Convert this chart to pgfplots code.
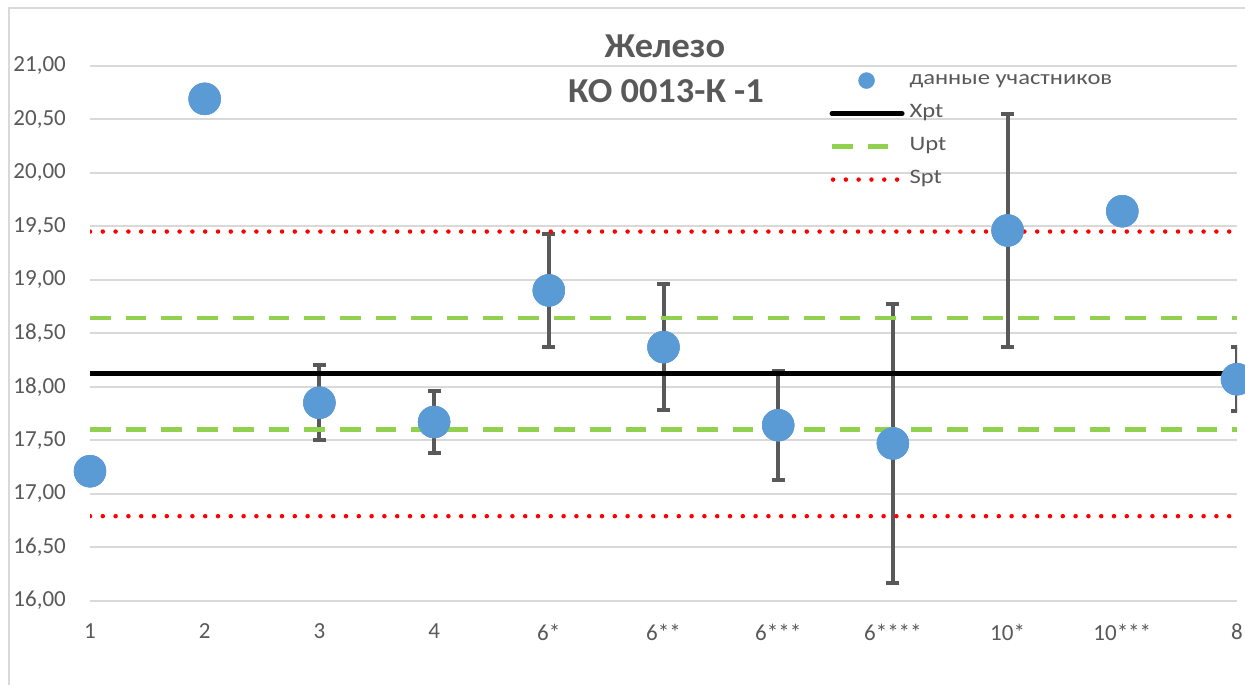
\documentclass[border=0pt]{standalone}
\usepackage{fontspec}
\setmainfont{Carlito}
\newfontfamily\tickfont{Carlito}[FakeStretch=1.0]
\newfontfamily\legfont{Carlito}[FakeStretch=1.2]
\newfontfamily\titlefont{Carlito}[FakeStretch=1.04]
\usepackage{pgfplots}
\usepackage{pgfplotstable}
\pgfplotsset{compat=1.18}

\definecolor{txtgray}{HTML}{595959}
\definecolor{gridgray}{HTML}{D9D9D9}
\definecolor{ptblue}{HTML}{5B9BD5}
\definecolor{upgreen}{HTML}{92D050}
\definecolor{bargray}{HTML}{595959}

\tikzset{
  xptline/.style={black, line width=5pt},
  uptline/.style={upgreen, line width=4.5pt, dash pattern=on 20.7pt off 15pt},
  sptline/.style={red, line width=4.5pt, line cap=round, dash pattern=on 0pt off 12.8pt},
}

% participant results: position, value, half-width of the error bar
\pgfplotstableread{
x  y      err
0  17.21  0
1  20.69  0
2  17.85  0.35
3  17.67  0.29
4  18.90  0.53
5  18.37  0.59
6  17.64  0.51
7  17.47  1.30
8  19.46  1.09
9  19.64  0
10 18.07  0.30
}\participants

\begin{document}
\begin{tikzpicture}
\clip (0,0) rectangle (1245pt,685pt);
\fill[white] (0,0) rectangle (1245pt,685pt);
\draw[gridgray, line width=2pt] (9pt,-5pt) -- (9pt,677pt) -- (1250pt,677pt);
\begin{axis}[
  at={(90pt,84.3pt)}, anchor=south west,
  scale only axis, width=1147pt, height=535pt,
  xmin=0, xmax=10, ymin=16, ymax=21,
  clip mode=individual,
  axis line style={draw=none},
  major tick length=0pt,
  xtick={0,...,10},
  xticklabels={1,2,3,4,6*,6**,6***,6****,10*,10***,8},
  ytick={16,16.5,...,21},
  ymajorgrids,
  grid style={gridgray, line width=2pt},
  tick label style={text=txtgray, font=\tickfont\fontsize{23}{27}\selectfont},
  xticklabel style={inner sep=0pt, yshift=-23pt},
  yticklabel style={inner sep=0pt, xshift=-24pt},
  /pgf/number format/.cd, fixed, fixed zerofill, precision=2, use comma, assume math mode=true,
  /pgfplots/.cd,
  legend style={
    at={(axis description cs:0.642,0.995)}, anchor=north west,
    draw=none, fill=none,
    font=\legfont\fontsize{20.5}{24}\selectfont, text=txtgray,
    row sep=13pt, column sep=5pt,
    nodes={inner sep=0pt, text height=14pt, text depth=6pt},
  },
  legend cell align=left,
]
\addplot[only marks, mark=*, mark size=16pt, color=ptblue,
  mark options={draw=none, fill=ptblue},
  legend image code/.code={\fill[ptblue] (35.5pt,0pt) circle (8pt);},
  error bars/.cd, y dir=both, y explicit,
  error bar style={line width=4pt, bargray},
  error mark options={rotate=90, line width=4pt, bargray, mark size=6.5pt}]
  table[x=x, y=y, y error=err] {\participants};
\addlegendentry{данные участников}

\addplot[xptline,
  legend image code/.code={\draw[xptline, line cap=round] (1pt,0pt) -- (71pt,0pt);}]
  coordinates {(0,18.12) (10,18.12)};
\addlegendentry{Xpt}

\addplot[uptline,
  legend image code/.code={\draw[uptline] (1pt,0pt) -- (71pt,0pt);}]
  coordinates {(0,18.64) (10,18.64)};
\addlegendentry{Upt}
\addplot[uptline, forget plot] coordinates {(0,17.60) (10,17.60)};

\addplot[sptline,
  legend image code/.code={\draw[sptline] (2pt,0pt) -- (71pt,0pt);}]
  coordinates {(0,19.45) (10,19.45)};
\addlegendentry{Spt}
\addplot[sptline, forget plot] coordinates {(0,16.79) (10,16.79)};

% markers on top of the reference lines
\addplot[only marks, mark=*, mark size=16pt, color=ptblue,
  mark options={draw=none, fill=ptblue}, forget plot]
  table[x=x, y=y] {\participants};
\end{axis}
\node[font=\titlefont\bfseries\fontsize{35}{40}\selectfont, text=txtgray] at (665pt,639pt) {Железо};
\node[font=\titlefont\bfseries\fontsize{35}{40}\selectfont, text=txtgray] at (666pt,594pt) {КО 0013-К -1};
\end{tikzpicture}
\end{document}
